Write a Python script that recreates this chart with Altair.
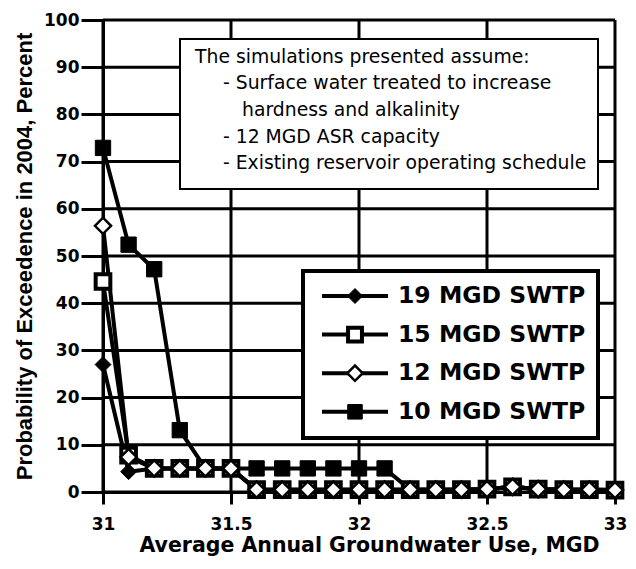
import altair as alt
import pandas as pd

# ---- data ----
gw_use = [31.0, 31.1, 31.2, 31.3, 31.4, 31.5, 31.6, 31.7, 31.8, 31.9, 32.0,
          32.1, 32.2, 32.3, 32.4, 32.5, 32.6, 32.7, 32.8, 32.9, 33.0]
swtp19 = [27.0, 4.3, 5.0, 5.0, 5.0, 5.0, 0.5, 0.5, 0.5, 0.5, 0.5,
          0.5, 0.5, 0.5, 0.5, 0.6, 1.1, 0.6, 0.5, 0.5, 0.4]
swtp15 = [44.6, 7.8, 5.0, 5.0, 5.0, 5.0, 0.5, 0.5, 0.5, 0.5, 0.5,
          0.5, 0.5, 0.5, 0.5, 0.6, 1.1, 0.6, 0.5, 0.5, 0.4]
swtp12 = [56.4, 7.4, 5.0, 5.0, 5.0, 5.0, 0.5, 0.5, 0.5, 0.5, 0.5,
          0.5, 0.5, 0.5, 0.5, 0.6, 1.1, 0.6, 0.5, 0.5, 0.4]
swtp10 = [72.9, 52.4, 47.2, 13.1, 5.0, 5.0, 5.0, 5.0, 5.0, 5.0, 5.0,
          5.0, 0.5, 0.5, 0.5, 0.6, 1.1, 0.6, 0.5, 0.5, 0.4]

series_names = ["19 MGD SWTP", "15 MGD SWTP", "12 MGD SWTP", "10 MGD SWTP"]
series_values = [swtp19, swtp15, swtp12, swtp10]

note_lines = [
    "The simulations presented assume:",
    "- Surface water treated to increase",
    "hardness and alkalinity",
    "- 12 MGD ASR capacity",
    "- Existing reservoir operating schedule",
]

x_ticks = [31, 31.5, 32, 32.5, 33]
y_ticks = [0, 10, 20, 30, 40, 50, 60, 70, 80, 90, 100]

# marker styles (shape, fill, size, strokeWidth)
styles = {
    "19 MGD SWTP": ("diamond", "black", 250, 1),
    "15 MGD SWTP": ("square", "white", 215, 4),
    "12 MGD SWTP": ("diamond", "white", 260, 2.5),
    "10 MGD SWTP": ("square", "black", 235, 1),
}
draw_order = ["10 MGD SWTP", "19 MGD SWTP", "15 MGD SWTP", "12 MGD SWTP"]

rows = []
for name, vals in zip(series_names, series_values):
    for x, v in zip(gw_use, vals):
        rows.append({"x": x, "p": v, "series": name})
df = pd.DataFrame(rows)

FONT = "DejaVu Sans"
TFONT = "Liberation Sans"
W, H = 512, 472

common_axis = dict(grid=False, domainColor="black", domainWidth=3, tickColor="black", tickWidth=3,
                   labelFont=FONT, labelFontSize=17, labelFontWeight="bold", labelColor="black",
                   titleFontWeight="bold", titleColor="black", labelFlush=False)

xscale = alt.Scale(domain=[31, 33], nice=False, zero=False)
yscale = alt.Scale(domain=[0, 100], nice=False)
xaxis = alt.Axis(values=x_ticks, format="~g", title="Average Annual Groundwater Use, MGD",
                 tickSize=12, labelPadding=12, titlePadding=3, titleFont=FONT,
                 titleFontSize=20.5, titleX=266, titleAlign="center", **common_axis)
yaxis = alt.Axis(values=y_ticks, format="d", title="Probability of Exceedence in 2004, Percent",
                 tickSize=22, labelPadding=2, titlePadding=7, titleFont=TFONT,
                 titleFontSize=22, **common_axis)

# grid lines from the tick arrays
xgrid = alt.Chart(pd.DataFrame({"gx": x_ticks})).mark_rule(color="black", strokeWidth=3).encode(
    x=alt.X("gx:Q", scale=xscale, axis=xaxis))
ygrid = alt.Chart(pd.DataFrame({"gy": y_ticks})).mark_rule(color="black", strokeWidth=3).encode(
    y=alt.Y("gy:Q", scale=yscale, axis=yaxis))

lines = alt.Chart(df).mark_line(color="black", strokeWidth=4).encode(
    x=alt.X("x:Q", scale=xscale, axis=xaxis),
    y=alt.Y("p:Q", scale=yscale, axis=yaxis),
    detail="series:N", order="x:Q"
)

layers = [xgrid, ygrid, lines]
for name in draw_order:
    shp, fill, size, sw = styles[name]
    layers.append(
        alt.Chart(df).transform_filter(alt.datum.series == name)
        .mark_point(shape=shp, filled=True, fill=fill, stroke="black", strokeWidth=sw,
                    size=size, opacity=1)
        .encode(x="x:Q", y="p:Q")
    )

one = pd.DataFrame({"a": [0]})

# annotation box
layers.append(alt.Chart(one).mark_rect(fill="white", stroke="black", strokeWidth=2).encode(
    x=alt.value(77), x2=alt.value(495), y=alt.value(19), y2=alt.value(169)))
note_pos = [(92, 37), (120, 63), (139, 90), (120, 117), (120, 143)]
for txt, (px, py) in zip(note_lines, note_pos):
    layers.append(alt.Chart(one).mark_text(align="left", baseline="middle", font=FONT,
                                           fontSize=18.8, color="black").encode(
        x=alt.value(px), y=alt.value(py), text=alt.value(txt)))

# legend box
layers.append(alt.Chart(one).mark_rect(fill="white", stroke="black", strokeWidth=4).encode(
    x=alt.value(200), x2=alt.value(495), y=alt.value(251), y2=alt.value(418)))
for i, name in enumerate(series_names):
    ly = 276 + i * 38.6
    shp, fill, size, sw = styles[name]
    layers.append(alt.Chart(one).mark_rule(color="black", strokeWidth=4).encode(
        x=alt.value(219), x2=alt.value(285), y=alt.value(ly)))
    layers.append(alt.Chart(one).mark_point(shape=shp, filled=True, fill=fill, stroke="black",
                                            strokeWidth=sw, size=size * 0.9, opacity=1).encode(
        x=alt.value(252), y=alt.value(ly)))
    layers.append(alt.Chart(one).mark_text(align="left", baseline="middle", font=FONT,
                                           fontSize=23.5, fontWeight="bold", color="black").encode(
        x=alt.value(295), y=alt.value(ly), text=alt.value(name)))

chart = alt.layer(*layers).properties(
    width=W, height=H,
    autosize=alt.AutoSizeParams(type="none"),
    padding={"left": 95, "top": 12, "right": 13, "bottom": 66},
).configure_view(stroke=None)

chart.save("out.html", embed_options={"renderer": "svg", "actions": False})
